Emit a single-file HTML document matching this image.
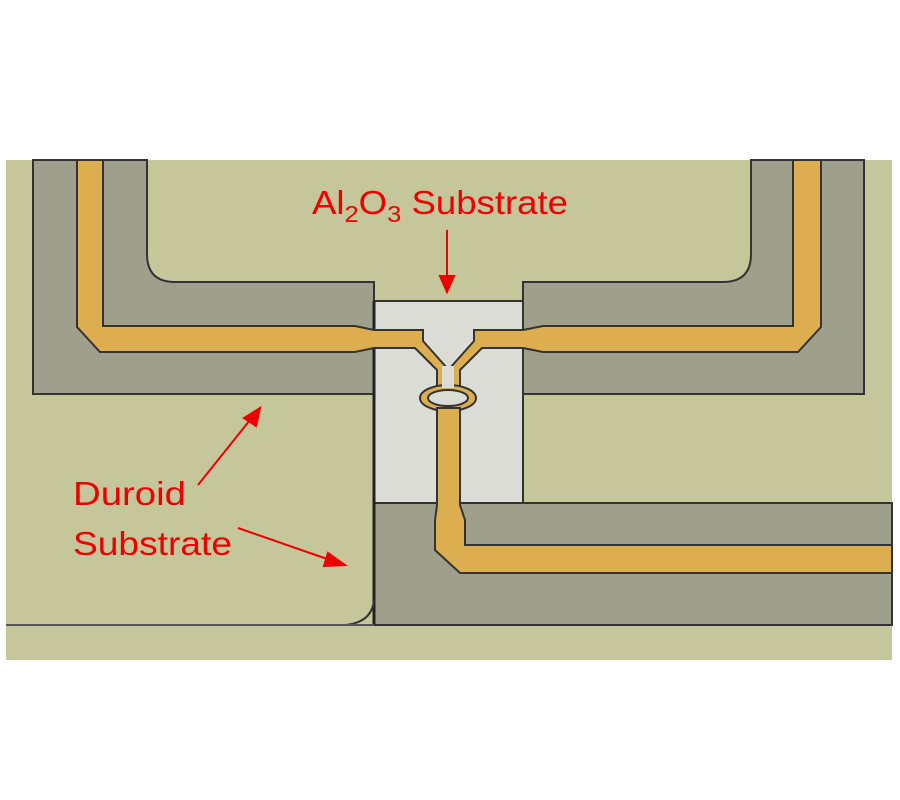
<!DOCTYPE html>
<html><head><style>body{margin:0;background:#fff}svg{display:block}</style></head><body>
<svg width="900" height="800" xmlns="http://www.w3.org/2000/svg">
<rect x="6" y="160" width="886" height="500" fill="#c5c69a"/>
<g stroke="#333" stroke-width="2">
<path d="M33 160 V394 H374 V282 H175 Q147 282 147 254 V160 Z" fill="#9ea08c"/>
<path d="M864 160 V394 H523 V282 H723 Q751 282 751 254 V160 Z" fill="#9ea08c"/>
<path d="M374 503 H892 V625 H374 Z" fill="#9ea08c"/>
<rect x="374" y="301" width="149" height="202" fill="#dcdcd6"/>
</g>
<line x1="374" y1="301" x2="374" y2="625" stroke="#222" stroke-width="3"/>
<path d="M346 625 Q372 622 374 600" fill="none" stroke="#333" stroke-width="2"/>
<line x1="6" y1="625" x2="374" y2="625" stroke="#555" stroke-width="2"/>
<g fill="#ddae50" stroke="#333" stroke-width="2">
<path d="M77 160 V327 L100 352 H355 L374 348 H415 L437 370 V388 H447 V368 L423 341 V330 H374 L355 326 H103 V160 Z"/>
<path d="M821 160 V327 L798 352 H543 L523 348 H482 L460 370 V388 H450 V368 L474 341 V330 H523 L543 326 H793 V160 Z"/>
<ellipse cx="448" cy="398" rx="28" ry="13"/>
<path d="M437 408 V505 L435 520 V550 L460 573 H892 V545 H465 V520 L460 505 V408 Z"/>
</g>
<ellipse cx="448" cy="398" rx="20" ry="8" fill="#dcdcd6" stroke="#333" stroke-width="2"/>
<rect x="442" y="366" width="12" height="22" fill="#dcdcd6"/>
<g fill="#e00" font-family="Liberation Sans, sans-serif" font-size="33">
<text x="312" y="214" textLength="256" lengthAdjust="spacingAndGlyphs">Al<tspan font-size="23" dy="8">2</tspan><tspan dy="-8">O</tspan><tspan font-size="23" dy="8">3</tspan><tspan dy="-8"> Substrate</tspan></text>
<text x="73" y="505" textLength="113" lengthAdjust="spacingAndGlyphs">Duroid</text>
<text x="73" y="555" textLength="159" lengthAdjust="spacingAndGlyphs">Substrate</text>
</g>
<g stroke="#e00" stroke-width="2" fill="#e00">
<line x1="447" y1="230" x2="447" y2="278"/><path d="M440 276 L454 276 L447 292 Z"/>
<line x1="198" y1="485" x2="250" y2="420"/><path d="M244 418 L256 426 L260 408 Z"/>
<line x1="238" y1="528" x2="330" y2="560"/><path d="M328 553 L324 566 L345 565 Z"/>
</g>
</svg>
</body></html>
